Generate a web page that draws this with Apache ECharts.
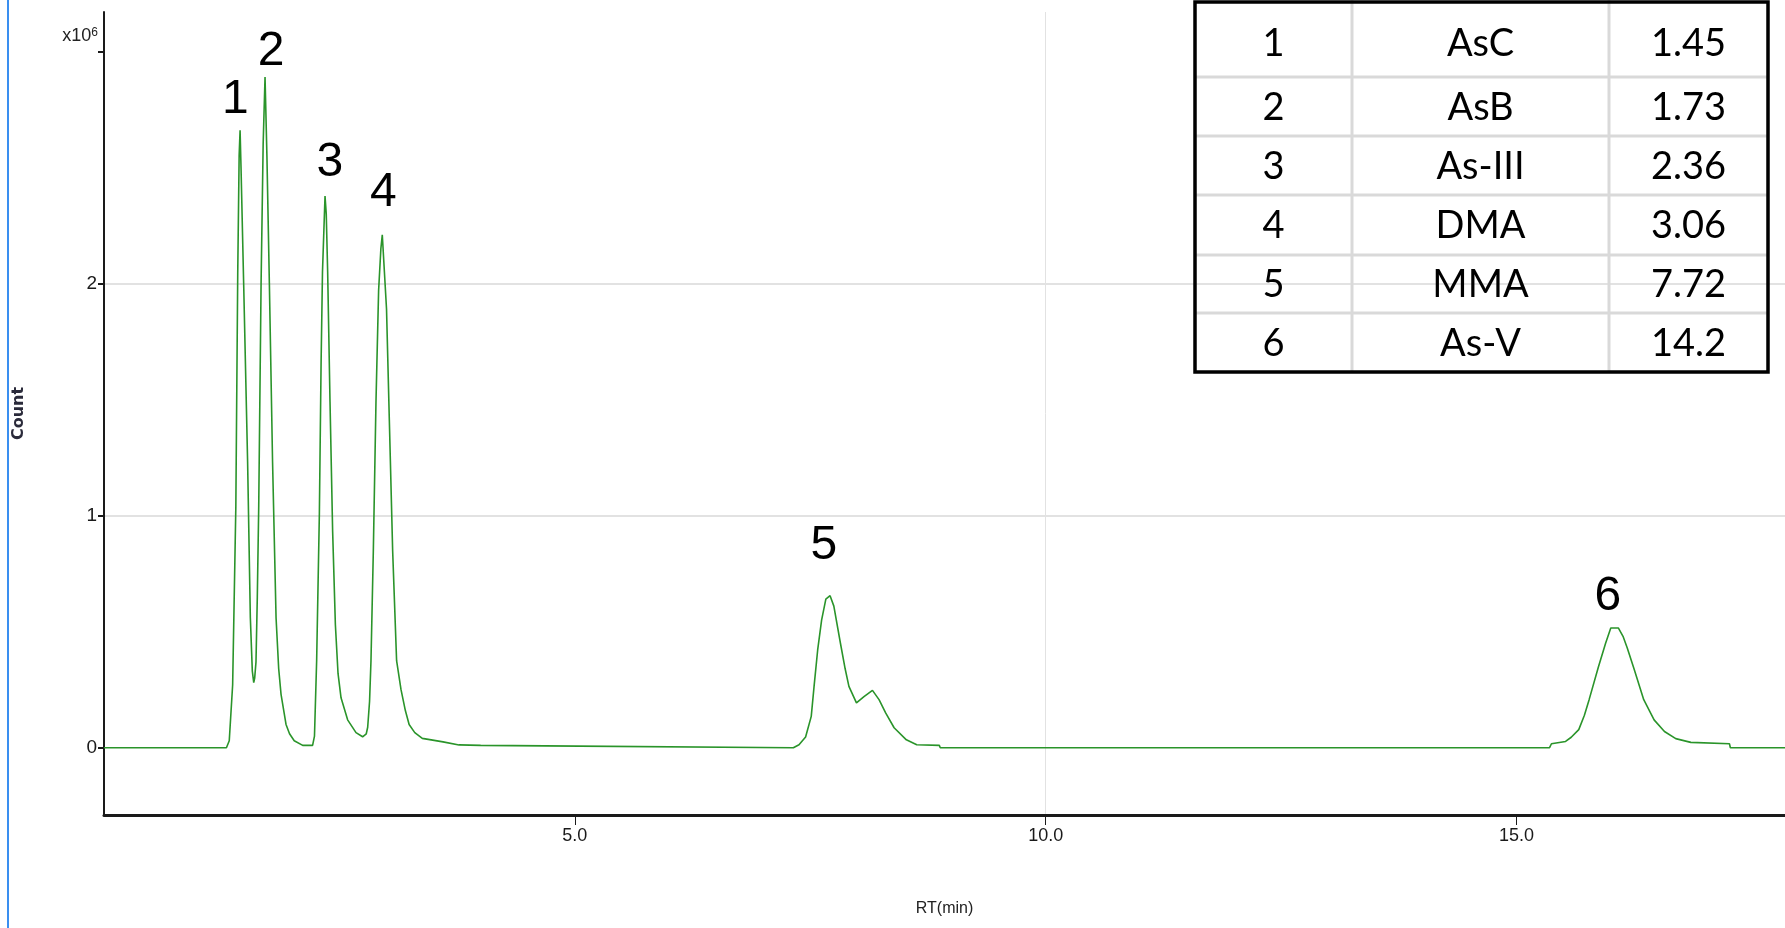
<!DOCTYPE html>
<html>
<head>
<meta charset="utf-8">
<title>Chromatogram</title>
<script src="https://cdn.jsdelivr.net/npm/echarts@6/dist/echarts.min.js"></script>
<style>
  html, body { margin: 0; padding: 0; background: #ffffff; }
  #chart { width: 1785px; height: 928px; }
</style>
</head>
<body>
<div id="chart"></div>
<script>
// ---- Data (retention time in min, counts in units of 10^6) ----
const rtTimes = [
  0, 1.30, 1.33, 1.366, 1.40, 1.42, 1.435, 1.445, 1.455, 1.483, 1.525, 1.554, 1.575, 1.59, 1.60, 1.614,
  1.628, 1.643, 1.668, 1.69, 1.71, 1.73, 1.756, 1.79, 1.827, 1.855, 1.88, 1.933, 1.97, 2.02, 2.11,
  2.215, 2.235, 2.258, 2.287, 2.305, 2.32, 2.347, 2.36, 2.375, 2.40, 2.428, 2.457, 2.485, 2.517,
  2.587, 2.676, 2.746, 2.785, 2.80, 2.82, 2.835, 2.86, 2.888, 2.916, 2.94, 2.955, 2.972, 3.0, 3.03,
  3.065, 3.107, 3.154, 3.20, 3.24, 3.30, 3.38, 3.6, 3.77, 4.0, 4.68, 4.70,
  7.32, 7.38, 7.45, 7.51, 7.54, 7.578, 7.62, 7.665, 7.71, 7.75, 7.82, 7.87, 7.91, 7.99, 8.07, 8.16,
  8.23, 8.30, 8.39, 8.52, 8.63, 8.87, 8.88,
  15.35, 15.37, 15.52, 15.58, 15.66, 15.72, 15.77, 15.87, 15.945, 16.0, 16.08, 16.13, 16.175, 16.25,
  16.35, 16.46, 16.57, 16.69, 16.85, 17.26, 17.27, 17.85
];
const counts = [
  0, 0, 0.03, 0.27, 1.04, 2.04, 2.55, 2.66, 2.50, 2.00, 1.23, 0.56, 0.33, 0.28, 0.30, 0.37,
  0.65, 1.04, 2.00, 2.60, 2.89, 2.55, 2.00, 1.23, 0.56, 0.34, 0.23, 0.10, 0.06, 0.03, 0.01,
  0.01, 0.05, 0.375, 1.01, 1.65, 2.05, 2.377, 2.30, 2.05, 1.49, 0.93, 0.53, 0.32, 0.215,
  0.12, 0.065, 0.047, 0.06, 0.088, 0.20, 0.375, 0.85, 1.49, 1.97, 2.15, 2.21, 2.21, 1.89, 1.41,
  0.85, 0.375, 0.25, 0.16, 0.10, 0.065, 0.04, 0.025, 0.012, 0.01, 0.008, 0,
  0, 0.013, 0.046, 0.135, 0.264, 0.42, 0.55, 0.64, 0.655, 0.61, 0.45, 0.34, 0.264, 0.193, 0.22, 0.247,
  0.207, 0.15, 0.086, 0.034, 0.013, 0.01, 0,
  0, 0.017, 0.027, 0.045, 0.078, 0.14, 0.207, 0.35, 0.45, 0.516, 0.516, 0.48, 0.43, 0.336,
  0.207, 0.12, 0.07, 0.039, 0.023, 0.017, 0, 0
];

// Peak annotation labels (position in data coordinates)
const peakLabels = ['1', '2', '3', '4', '5', '6'];
const peakLabelRt = [1.395, 1.774, 2.398, 2.966, 7.645, 15.97];
const peakLabelCount = [2.79, 3.00, 2.52, 2.39, 0.87, 0.65];

// Table contents
const peakNumbers = ['1', '2', '3', '4', '5', '6'];
const compounds = ['AsC', 'AsB', 'As-III', 'DMA', 'MMA', 'As-V'];
const retentionLabels = ['1.45', '1.73', '2.36', '3.06', '7.72', '14.2'];

// Axis ticks
const xTickValues = [5, 10, 15];
const yTickValues = [0, 1, 2, 3];
const yLabelValues = [0, 1, 2];

// ---- Build ----
const lineData = rtTimes.map((t, i) => [t, counts[i]]);
const labelData = peakLabels.map((s, i) => [peakLabelRt[i], peakLabelCount[i], s]);

const axisFont = "'Liberation Sans', Arial, sans-serif";

// table layout
const colEdges = [1195, 1352, 1609, 1768];
const rowEdges = [2, 77, 136, 195, 255, 313, 372];
const tableEls = [];
for (let c = 1; c < colEdges.length - 1; c++) {
  tableEls.push({
    type: 'line', z: 50,
    shape: { x1: colEdges[c], y1: 0, x2: colEdges[c], y2: rowEdges[rowEdges.length - 1] },
    style: { stroke: '#d9d9d9', lineWidth: 3 }
  });
}
for (let r = 1; r < rowEdges.length - 1; r++) {
  tableEls.push({
    type: 'line', z: 50,
    shape: { x1: colEdges[0], y1: rowEdges[r], x2: colEdges[colEdges.length - 1], y2: rowEdges[r] },
    style: { stroke: '#d9d9d9', lineWidth: 3 }
  });
}
tableEls.push({
  type: 'rect', z: 52,
  shape: { x: colEdges[0], y: rowEdges[0], width: colEdges[3] - colEdges[0], height: rowEdges[6] - rowEdges[0] },
  style: { fill: 'none', stroke: '#000000', lineWidth: 3.5 }
});
const columns = [peakNumbers, compounds, retentionLabels];
columns.forEach((col, c) => {
  col.forEach((txt, r) => {
    tableEls.push({
      type: 'text', z: 55,
      x: (colEdges[c] + colEdges[c + 1]) / 2,
      y: (rowEdges[r] + rowEdges[r + 1]) / 2 + (r === 0 ? 4 : 1),
      style: {
        text: txt, fill: '#000000',
        font: "38px Lato, 'Open Sans', 'Noto Sans', sans-serif",
        align: 'center', verticalAlign: 'middle'
      }
    });
  });
});

// left blue border line and exponent label
tableEls.push({
  type: 'line', z: 60,
  shape: { x1: 8, y1: 0, x2: 8, y2: 928 },
  style: { stroke: '#3a8ff0', lineWidth: 2 }
});
tableEls.push({
  type: 'text', z: 60,
  x: 98, y: 45,
  style: {
    text: '{a|x10}{b|6}',
    align: 'right', verticalAlign: 'bottom',
    rich: {
      a: { fontSize: 18, fontFamily: axisFont, fill: '#222222' },
      b: { fontSize: 12, fontFamily: axisFont, fill: '#222222', verticalAlign: 'top' }
    }
  }
});

const chart = echarts.init(document.getElementById('chart'), null, { renderer: 'canvas' });
chart.setOption({
  animation: false,
  backgroundColor: '#ffffff',
  grid: { left: 104, right: 0, top: 12, bottom: 113, containLabel: false },
  xAxis: {
    type: 'value',
    min: 0, max: 17.85,
    name: 'RT(min)',
    nameLocation: 'middle',
    nameGap: 86,
    nameTextStyle: { fontFamily: axisFont, fontSize: 16, color: '#222222' },
    axisLine: { onZero: false, lineStyle: { color: '#1a1a1a', width: 3 } },
    axisTick: { show: true, length: 10, customValues: xTickValues, lineStyle: { color: '#1a1a1a', width: 1 } },
    axisLabel: {
      customValues: xTickValues,
      margin: 12,
      fontFamily: axisFont, fontSize: 18, color: '#1a1a1a',
      formatter: v => Number(v).toFixed(1)
    },
    splitLine: { show: true, showMinLine: false, showMaxLine: false, lineStyle: { color: '#e2e2e2', width: 1 } }
  },
  yAxis: {
    type: 'value',
    min: -0.29, max: 3.17,
    minInterval: 1, maxInterval: 1, splitNumber: 3,
    name: 'Count',
    nameLocation: 'middle',
    nameRotate: 90,
    nameGap: 77,
    nameTextStyle: { fontFamily: "'DejaVu Sans', Verdana, sans-serif", fontSize: 16, fontWeight: 'bold', color: '#2a2a3a' },
    axisLine: { show: true, lineStyle: { color: '#1a1a1a', width: 2 } },
    axisTick: { show: true, length: 6, customValues: yTickValues, lineStyle: { color: '#1a1a1a', width: 2 } },
    axisLabel: {
      customValues: yLabelValues,
      margin: 7,
      fontFamily: axisFont, fontSize: 19, color: '#1a1a1a',
      formatter: v => (Number.isInteger(v) && v >= 0 && v < 3) ? String(v) : ''
    },
    splitLine: { show: true, showMinLine: false, showMaxLine: false, lineStyle: { color: '#e2e2e2', width: 2 } }
  },
  series: [
    {
      type: 'line',
      data: lineData,
      showSymbol: false,
      symbol: 'none',
      smooth: false,
      lineStyle: { color: '#2a942a', width: 1.6 },
      z: 5,
      silent: true
    },
    {
      type: 'scatter',
      data: labelData,
      symbolSize: 0,
      silent: true,
      z: 6,
      label: {
        show: true,
        position: 'inside',
        formatter: p => p.value[2],
        fontFamily: "'Liberation Sans', Arial, sans-serif",
        fontSize: 48,
        color: '#000000',
        textBorderWidth: 0,
        opacity: 1
      }
    }
  ],
  graphic: tableEls
});
</script>
</body>
</html>
